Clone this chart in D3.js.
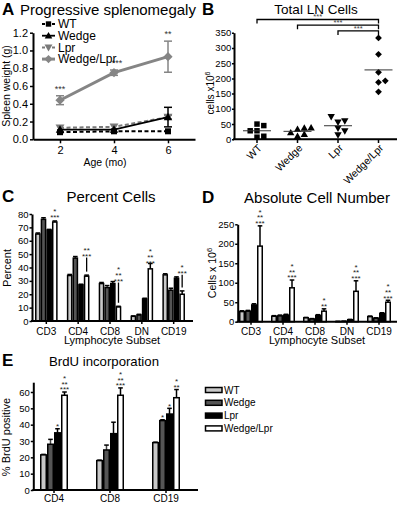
<!DOCTYPE html>
<html><head><meta charset="utf-8">
<script src="https://cdn.jsdelivr.net/npm/d3@7"></script>
<style>body{margin:0;background:#fff}svg{display:block}</style>
</head><body><svg id="c" width="400" height="505"></svg>
<script>
// ---------- Panel A data ----------
const ages = [2, 4, 6];
const aSeries = ["WT", "Wedge", "Lpr", "Wedge/Lpr"];
const aWT = [0.08, 0.09, 0.09];
const aWTErr = [0.005, 0.005, 0.005];
const aWedge = [0.11, 0.11, 0.25];
const aWedgeErr = [0.01, 0.01, 0.11];
const aLpr = [0.13, 0.14, 0.25];
const aLprErr = [0.01, 0.01, 0.02];
const aWL = [0.44, 0.75, 0.93];
const aWLErr = [0.05, 0.03, 0.175];
const aStars = ["***", "***", "**"];
const aYTicks = [0, 0.2, 0.4, 0.6, 0.8, 1.0, 1.2];
// ---------- Panel B data ----------
const bGroups = ["WT", "Wedge", "Lpr", "Wedge/Lpr"];
const bWT = [50, 45, 28, 28, 7, 10];
const bWedge = [38, 37, 33, 22, 17, 10];
const bLpr = [74, 60, 56, 36, 27, 14];
const bWL = [333, 279, 220, 192, 187, 156];
const bYTicks = [0, 50, 100, 150, 200, 250, 300, 350];
const bComparisons = [["WT", "Wedge/Lpr", "***"], ["Wedge", "Wedge/Lpr", "***"], ["Lpr", "Wedge/Lpr", "***"]];
// ---------- Panels C/D/E shared ----------
const barSeries = ["WT", "Wedge", "Lpr", "Wedge/Lpr"];
const subsets = ["CD3", "CD4", "CD8", "DN", "CD19"];
// ---------- Panel C data ----------
const cWT = [65, 34, 28, 3.5, 34.5];
const cWedge = [76, 47, 25, 4.5, 23];
const cLpr = [68, 27, 28, 16.5, 32];
const cWL = [74, 33.5, 10.5, 39, 20];
const cWTErr = [0.8, 0.8, 0.8, 0.3, 0.8];
const cWedgeErr = [1.2, 1.2, 1.5, 0.5, 1.5];
const cLprErr = [0.5, 0.5, 1.5, 0.5, 1];
const cWLErr = [0.8, 0.8, 0.5, 4, 2.5];
const cStarsWL = [["*", "***"], ["**", "***"], ["*", "**", "***"], ["*", "**", "***"], ["*", "***"]];
const cYTicks = [0, 10, 20, 30, 40, 50, 60, 70, 80];
// ---------- Panel D data ----------
const dWT = [26, 14, 10, 0.5, 13];
const dWedge = [27, 15, 7, 1, 9];
const dLpr = [43, 17, 16, 5, 21];
const dWL = [194, 87, 27, 78, 50];
const dWTErr = [2, 1.5, 1, 0.3, 1.5];
const dWedgeErr = [2, 2, 1, 0.3, 1];
const dLprErr = [3, 2, 2, 1, 2];
const dWLErr = [52, 20, 6, 27, 5];
const dStarsWL = [["*", "**", "***"], ["*", "**", "***"], ["*", "**"], ["*", "**", "***"], ["*", "**", "***"]];
const dYTicks = [0, 50, 100, 150, 200, 250];
// ---------- Panel E data ----------
const eSubsets = ["CD4", "CD8", "CD19"];
const eWT = [21.5, 18, 29];
const eWedge = [28, 24.5, 42.5];
const eLpr = [35, 34.5, 46.5];
const eWL = [58, 58, 56.5];
const eWTErr = [0.3, 0.3, 0.3];
const eWedgeErr = [3, 3, 0.5];
const eLprErr = [2.5, 7, 3.5];
const eWLErr = [2, 4.5, 5];
const eStarsWedge = [[], [], ["*"]];
const eStarsLpr = [["*"], [], ["*"]];
const eStarsWL = [["*", "**", "***"], ["*", "**", "***"], ["*", "**"]];
const eYTicks = [0, 10, 20, 30, 40, 50, 60];

const FONT = "'Liberation Sans', Arial, Helvetica, sans-serif";
const svg = d3.select("#c");

function styleAxis(g, fs) {
  g.attr("font-family", FONT).attr("font-size", fs);
  g.select(".domain").attr("stroke-width", 2).attr("stroke", "#000");
  g.selectAll(".tick line").attr("stroke-width", 1.5).attr("stroke", "#000");
  g.selectAll(".tick text").attr("fill", "#000");
  return g;
}
function txt(x, y, s, fs, opts = {}) {
  const t = svg.append("text").attr("x", x).attr("y", y).attr("font-family", FONT)
    .attr("font-size", fs).attr("fill", opts.fill || "#000").text(s);
  if (opts.anchor) t.attr("text-anchor", opts.anchor);
  if (opts.weight) t.attr("font-weight", opts.weight);
  return t;
}
function vtxt(x, y, s, fs) {
  return svg.append("text").attr("transform", `translate(${x},${y}) rotate(-90)`)
    .attr("text-anchor", "middle").attr("font-family", FONT).attr("font-size", fs).text(s);
}
function starStack(x, yBottom, rows, fs, spacing, color) {
  rows.slice().reverse().forEach((r, i) => {
    svg.append("text").attr("x", x).attr("y", yBottom - i * spacing + fs * 0.6)
      .attr("text-anchor", "middle").attr("font-family", FONT).attr("font-size", fs)
      .attr("fill", color || "#222").text(r);
  });
}

// ================= Panel A =================
txt(2, 15, "A", 17, {weight: "bold"});
txt(108, 15, "Progressive splenomegaly", 15, {anchor: "middle"});
const xA = d3.scaleLinear().domain([1, 7]).range([33, 195]);
const yA = d3.scaleLinear().domain([0, 1.2]).range([139.3, 32.7]);
styleAxis(svg.append("g").attr("transform", "translate(0,139.3)")
  .call(d3.axisBottom(xA).tickValues(ages).tickFormat(d3.format("d")).tickSize(4).tickSizeOuter(0).tickPadding(3)), 11);
styleAxis(svg.append("g").attr("transform", "translate(33,0)")
  .call(d3.axisLeft(yA).tickValues(aYTicks).tickFormat(d3.format(".1f")).tickSize(3).tickSizeOuter(0).tickPadding(2)), 11);
vtxt(9.5, 86, "Spleen weight (g)", 10.5);
txt(105, 166, "Age (mo)", 10.5, {anchor: "middle"});

const triDown = {draw(ctx, size) { const s = Math.sqrt(size); ctx.moveTo(-s * 0.6, -s * 0.45); ctx.lineTo(s * 0.6, -s * 0.45); ctx.lineTo(0, s * 0.6); ctx.closePath(); }};
const triUp = {draw(ctx, size) { const s = Math.sqrt(size); ctx.moveTo(-s * 0.6, s * 0.45); ctx.lineTo(s * 0.6, s * 0.45); ctx.lineTo(0, -s * 0.6); ctx.closePath(); }};
const diamond = {draw(ctx, size) { const s = Math.sqrt(size) * 0.62; ctx.moveTo(0, -s); ctx.lineTo(s, 0); ctx.lineTo(0, s); ctx.lineTo(-s, 0); ctx.closePath(); }};
const square = d3.symbolSquare;

const aDefs = [
  {name: aSeries[3], vals: aWL, err: aWLErr, color: "#858585", dash: null, w: 3, sym: diamond, size: 55},
  {name: aSeries[2], vals: aLpr, err: aLprErr, color: "#7a7a7a", dash: "4,2.5", w: 2, sym: triDown, size: 55},
  {name: aSeries[1], vals: aWedge, err: aWedgeErr, color: "#000", dash: null, w: 1.8, sym: triUp, size: 50},
  {name: aSeries[0], vals: aWT, err: aWTErr, color: "#000", dash: "4,2.5", w: 2, sym: square, size: 36},
];
const lineA = d3.line().x((d, i) => xA(ages[i])).y(d => yA(d));
aDefs.forEach(s => {
  s.vals.forEach((v, i) => {
    const cx = xA(ages[i]), e = s.err[i];
    if (yA(v - e) - yA(v + e) < 3) return;
    svg.append("line").attr("x1", cx).attr("x2", cx).attr("y1", yA(v - e)).attr("y2", yA(v + e)).attr("stroke", s.color).attr("stroke-width", 1.5);
    [v - e, v + e].forEach(ev => svg.append("line").attr("x1", cx - 4).attr("x2", cx + 4).attr("y1", yA(ev)).attr("y2", yA(ev)).attr("stroke", s.color).attr("stroke-width", 1.5));
  });
  svg.append("path").attr("d", lineA(s.vals)).attr("fill", "none").attr("stroke", s.color)
    .attr("stroke-width", s.w).attr("stroke-dasharray", s.dash);
  s.vals.forEach((v, i) => {
    svg.append("path").attr("d", d3.symbol(s.sym, s.size)()).attr("transform", `translate(${xA(ages[i])},${yA(v)})`).attr("fill", s.color);
  });
});
aWL.forEach((v, i) => {
  txt(xA(ages[i]) + (i === 1 ? 3 : 0), yA(v + aWLErr[i]) - 4, aStars[i], 9, {anchor: "middle", fill: "#333"});
});
aDefs.slice().reverse().forEach((s, i) => {
  const y = 24 + i * 11.7;
  svg.append("line").attr("x1", 42).attr("x2", 55).attr("y1", y).attr("y2", y).attr("stroke", s.color)
    .attr("stroke-width", s.w).attr("stroke-dasharray", s.dash ? "3,2" : null);
  svg.append("path").attr("d", d3.symbol(s.sym, s.size * 0.8)()).attr("transform", `translate(48.5,${y})`).attr("fill", s.color);
  txt(58, y + 4.3, s.name, 12);
});

// ================= Panel B =================
txt(202, 15, "B", 17, {weight: "bold"});
txt(316, 14, "Total LN Cells", 13.5, {anchor: "middle"});
const yB = d3.scaleLinear().domain([0, 350]).range([139.3, 32.7]);
const xB = d3.scalePoint().domain(bGroups).range([257, 378.5]);
styleAxis(svg.append("g").attr("transform", "translate(234,0)")
  .call(d3.axisLeft(yB).tickValues(bYTicks).tickSize(2).tickSizeOuter(0).tickPadding(0.8)), 9.5);
svg.append("line").attr("x1", 233).attr("x2", 397).attr("y1", 139.3).attr("y2", 139.3).attr("stroke", "#000").attr("stroke-width", 2);
bGroups.forEach(gn => {
  svg.append("line").attr("x1", xB(gn)).attr("x2", xB(gn)).attr("y1", 139.3).attr("y2", 143).attr("stroke", "#000").attr("stroke-width", 1.5);
  svg.append("text").attr("transform", `translate(${xB(gn) + 3},${146}) rotate(-45)`).attr("text-anchor", "end")
    .attr("font-family", FONT).attr("font-size", 10.5).attr("dy", "0.35em").text(gn);
});
const yl = svg.append("text").attr("transform", "translate(214,93) rotate(-90)").attr("text-anchor", "middle")
  .attr("font-family", FONT).attr("font-size", 10);
yl.append("tspan").text("cells x10");
yl.append("tspan").attr("font-size", 7).attr("dy", -4).text("6");

function swarm(vals, y, s, d) {
  const order = vals.map((v, i) => i).sort((a, b) => vals[a] - vals[b]);
  const placed = [], off = new Array(vals.length);
  order.forEach(i => {
    const py = y(vals[i]);
    for (let k = 0; k < 20; k++) {
      const o = k === 0 ? 0 : (k % 2 ? 1 : -1) * Math.ceil(k / 2) * d;
      if (!placed.some(p => Math.abs(p.y - py) < s && Math.abs(p.x - o) < s)) { placed.push({x: o, y: py}); off[i] = o; break; }
    }
  });
  return off;
}
const bDefs = [
  {g: "WT", vals: bWT, sym: square, size: 30},
  {g: "Wedge", vals: bWedge, sym: triUp, size: 38},
  {g: "Lpr", vals: bLpr, sym: triDown, size: 38},
  {g: "Wedge/Lpr", vals: bWL, sym: diamond, size: 30},
];
bDefs.forEach(s => {
  const off = swarm(s.vals, yB, 6, 6.8);
  s.vals.forEach((v, i) => {
    svg.append("path").attr("d", d3.symbol(s.sym, s.size)()).attr("transform", `translate(${xB(s.g) + off[i]},${yB(v)})`).attr("fill", "#000");
  });
  const m = d3.mean(s.vals);
  svg.append("line").attr("x1", xB(s.g) - 14).attr("x2", xB(s.g) + 14).attr("y1", yB(m)).attr("y2", yB(m)).attr("stroke", "#333").attr("stroke-width", 1);
});
bComparisons.forEach((c, i) => {
  const x1 = xB(c[0]), x2 = xB(c[1]), y = 19.5 + i * 5.7;
  svg.append("path").attr("d", `M${x1},${y + 4}V${y}H${x2}V${y + 4}`).attr("fill", "none").attr("stroke", "#000").attr("stroke-width", 1.3);
  txt((x1 + x2) / 2, y - 0.3, c[2], 7.5, {anchor: "middle", fill: "#444"});
});

// ================= Bar panels =================
const barFill = {"WT": "#c8c8c8", "Wedge": "#555", "Lpr": "#000", "Wedge/Lpr": "#fff"};
function drawBars(groups, vals, errs, x, y) {
  const xs = d3.scaleBand().domain(barSeries).range([0, x.bandwidth()]);
  groups.forEach((grp, gi) => {
    barSeries.forEach((s, si) => {
      const v = vals[si][gi], e = errs[si][gi];
      const bx = x(grp) + xs(s), cx = bx + xs.bandwidth() / 2;
      svg.append("line").attr("x1", cx).attr("x2", cx).attr("y1", y(v)).attr("y2", y(v + e)).attr("stroke", s === "Wedge" ? "#444" : "#000").attr("stroke-width", 1.5);
      svg.append("line").attr("x1", cx - 2.3).attr("x2", cx + 2.3).attr("y1", y(v + e)).attr("y2", y(v + e)).attr("stroke", "#000").attr("stroke-width", 1.5);
      svg.append("rect").attr("x", bx + 0.75).attr("y", y(v)).attr("width", xs.bandwidth() - 1.5)
        .attr("height", Math.max(0, y(0) - y(v))).attr("fill", barFill[s]).attr("stroke", "#000").attr("stroke-width", 1.5);
    });
  });
  return xs;
}
function barAxes(x, y, yTicks, x0, x1, ticksFs, labOff) {
  const y0 = y.range()[0];
  styleAxis(svg.append("g").attr("transform", `translate(${x0},0)`)
    .call(d3.axisLeft(y).tickValues(yTicks).tickSize(2.5).tickSizeOuter(0).tickPadding(1)), ticksFs);
  svg.append("line").attr("x1", x0 - 1).attr("x2", x1).attr("y1", y0).attr("y2", y0).attr("stroke", "#000").attr("stroke-width", 2);
  x.domain().forEach(d => {
    const cx = x(d) + x.bandwidth() / 2;
    svg.append("line").attr("x1", cx).attr("x2", cx).attr("y1", y0).attr("y2", y0 + 3).attr("stroke", "#000").attr("stroke-width", 1.5);
    txt(cx, y0 + labOff, d, 10, {anchor: "middle"});
  });
}

// ---- Panel C ----
txt(2, 202, "C", 17, {weight: "bold"});
txt(111, 202, "Percent Cells", 15, {anchor: "middle"});
const xC = d3.scaleBand().domain(subsets).range([30.4, 189.6]).paddingInner(0.29).paddingOuter(0.145);
const yC = d3.scaleLinear().domain([0, 80]).range([321, 214]);
const cVals = [cWT, cWedge, cLpr, cWL], cErrs = [cWTErr, cWedgeErr, cLprErr, cWLErr];
const xsC = drawBars(subsets, cVals, cErrs, xC, yC);
barAxes(xC, yC, cYTicks, 32, 193, 9.5, 13.5);
vtxt(10.5, 268, "Percent", 11);
txt(112, 344, "Lymphocyte Subset", 11, {anchor: "middle"});
subsets.forEach((g, gi) => {
  const gmax = d3.max(cVals.map((a, si) => a[gi] + cErrs[si][gi]));
  const cx = xC(g) + xsC("Wedge/Lpr") + xsC.bandwidth() / 2;
  const yb = yC(gmax) - 2.5;
  starStack(cx, yb, cStarsWL[gi], 8, 5.8);
  const top = yC(cWL[gi] + cWLErr[gi]);
  if (top - yb > 12) svg.append("line").attr("x1", cx).attr("x2", cx).attr("y1", yb + 3.5).attr("y2", top - 3.5).attr("stroke", "#000").attr("stroke-width", 1.3);
});

// ---- Panel D ----
txt(202, 203, "D", 17, {weight: "bold"});
txt(317, 203, "Absolute Cell Number", 15, {anchor: "middle"});
const xD = d3.scaleBand().domain(subsets).range([235, 395]).paddingInner(0.25).paddingOuter(0.125);
const yD = d3.scaleLinear().domain([0, 250]).range([321.7, 224.3]);
const dVals = [dWT, dWedge, dLpr, dWL], dErrs = [dWTErr, dWedgeErr, dLprErr, dWLErr];
const xsD = drawBars(subsets, dVals, dErrs, xD, yD);
barAxes(xD, yD, dYTicks, 237.7, 397, 9.5, 13.5);
const dl = svg.append("text").attr("transform", "translate(216,273) rotate(-90)").attr("text-anchor", "middle")
  .attr("font-family", FONT).attr("font-size", 10.5);
dl.append("tspan").text("Cells x 10");
dl.append("tspan").attr("font-size", 7.5).attr("dy", -4.5).text("6");
txt(317, 344, "Lymphocyte Subset", 11, {anchor: "middle"});
subsets.forEach((g, gi) => {
  const cx = xD(g) + xsD("Wedge/Lpr") + xsD.bandwidth() / 2;
  starStack(cx, yD(dWL[gi] + dWLErr[gi]) - 4.5, dStarsWL[gi], 8, 5.7);
});

// ---- Panel E ----
txt(2, 366, "E", 17, {weight: "bold"});
txt(104, 366, "BrdU incorporation", 13.2, {anchor: "middle"});
const xE = d3.scaleBand().domain(eSubsets).range([26, 194]).paddingInner(0.5).paddingOuter(0.25);
const yE = d3.scaleLinear().domain([0, 66]).range([490, 382.2]);
const eVals = [eWT, eWedge, eLpr, eWL], eErrs = [eWTErr, eWedgeErr, eLprErr, eWLErr];
const xsE = drawBars(eSubsets, eVals, eErrs, xE, yE);
barAxes(xE, yE, eYTicks, 33.3, 198, 9.5, 12);
vtxt(9.5, 437, "% BrdU positive", 11);
[[1, eStarsWedge], [2, eStarsLpr], [3, eStarsWL]].forEach(([si, st]) => {
  const s = barSeries[si];
  eSubsets.forEach((g, gi) => {
    if (!st[gi].length) return;
    const cx = xE(g) + xsE(s) + xsE.bandwidth() / 2;
    starStack(cx, yE(eVals[si][gi] + eErrs[si][gi]) - 4.5, st[gi], 8, 5.7);
  });
});
barSeries.forEach((s, i) => {
  const y = 390 + i * 12.8;
  svg.append("rect").attr("x", 205.5).attr("y", y - 2.5).attr("width", 16.5).attr("height", 5)
    .attr("fill", barFill[s]).attr("stroke", "#000").attr("stroke-width", 1.5);
  txt(224, y + 3.5, s, 10);
});
</script></body></html>
